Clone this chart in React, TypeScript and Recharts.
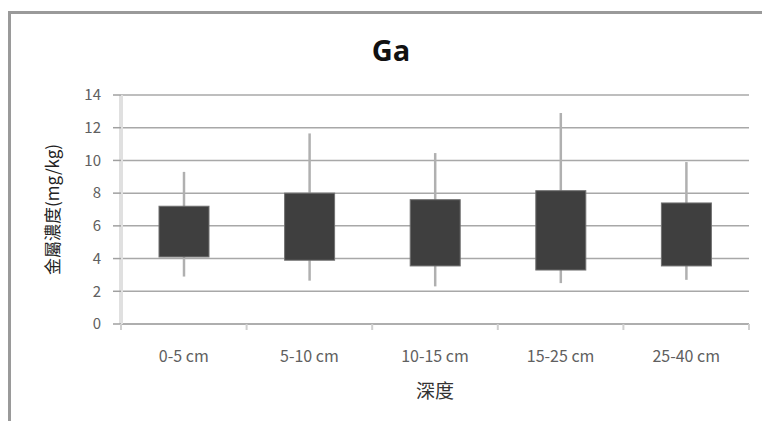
import { ComposedChart, Bar, XAxis, YAxis, CartesianGrid } from 'recharts';

const depths = ['0-5 cm', '5-10 cm', '10-15 cm', '15-25 cm', '25-40 cm'];
const minValues = [2.9, 2.65, 2.3, 2.5, 2.7];
const q1Values = [4.1, 3.9, 3.55, 3.3, 3.55];
const q3Values = [7.2, 8.0, 7.6, 8.15, 7.4];
const maxValues = [9.3, 11.65, 10.45, 12.9, 9.9];
const yTicks = [0, 2, 4, 6, 8, 10, 12, 14];

const data = depths.map((depth, i) => ({
  depth,
  range: [minValues[i], maxValues[i]],
  q1: q1Values[i],
  q3: q3Values[i],
}));

const FONT = '"Noto Sans CJK TC", "Noto Sans", sans-serif';

/**
 * Draws whisker (min..max) and the q1..q3 box inside the range bar's rectangle
 */
function BoxShape(props: any) {
  const { x, y, width, height, payload } = props;
  const [lo, hi] = payload.range;
  const toY = (v: number) => y + ((hi - v) / (hi - lo)) * height;
  const cx = x + width / 2;
  const top = toY(payload.q3);
  const bottom = toY(payload.q1);
  return (
    <g>
      <line x1={cx} x2={cx} y1={y} y2={y + height} stroke="#b0b0b0" strokeWidth={2.5} />
      <rect
        x={x}
        y={top}
        width={width}
        height={bottom - top}
        fill="#3f3f3f"
        stroke="#707070"
        strokeWidth={1}
      />
    </g>
  );
}

function DepthTick(props: any) {
  const { x, y, width, payload, index, visibleTicksCount } = props;
  const band = width / visibleTicksCount;
  const left = x - band / 2;
  return (
    <g>
      <line x1={left} x2={left} y1={y} y2={y + 6} stroke="#cfcfcf" strokeWidth={2} />
      {index === visibleTicksCount - 1 && (
        <line x1={x + band / 2} x2={x + band / 2} y1={y} y2={y + 6} stroke="#cfcfcf" strokeWidth={2} />
      )}
      <text x={x} y={y + 38} textAnchor="middle" fontSize={16} fill="#606060" fontFamily={FONT}>
        {payload.value}
      </text>
    </g>
  );
}

function YTitle({ viewBox }: any) {
  const x = viewBox.x + 51;
  const y = viewBox.y + viewBox.height / 2;
  return (
    <text
      x={x}
      y={y}
      transform={`rotate(-90, ${x}, ${y})`}
      textAnchor="middle"
      dominantBaseline="central"
      fontSize={17}
      fill="#222"
      fontFamily={FONT}
    >
      金屬濃度(mg/kg)
    </text>
  );
}

function XTitle({ viewBox }: any) {
  const x = viewBox.x + viewBox.width / 2;
  return (
    <text x={x} y={viewBox.y + 74} textAnchor="middle" fontSize={19} fill="#333" fontFamily={FONT}>
      深度
    </text>
  );
}

export default function App() {
  return (
    <div
      style={{
        position: 'absolute',
        left: 0,
        top: 0,
        width: 762,
        height: 421,
        background: '#fff',
        overflow: 'hidden',
      }}
    >
      <div
        style={{
          position: 'absolute',
          left: 8,
          top: 11,
          right: -4,
          bottom: -4,
          borderTop: '3px solid #9a9a9a',
          borderLeft: '3px solid #9a9a9a',
        }}
      />
      <div
        style={{
          position: 'absolute',
          left: 291,
          top: 30,
          width: 200,
          textAlign: 'center',
          fontFamily: '"Open Sans", sans-serif',
          fontWeight: 700,
          fontSize: 29,
          color: '#111',
          lineHeight: '40px',
        }}
      >
        Ga
      </div>
      <ComposedChart
        width={762}
        height={421}
        data={data}
        margin={{ top: 95, right: 13, bottom: 37, left: 0 }}
        style={{ position: 'absolute', left: 0, top: 0 }}
      >
        <CartesianGrid vertical={false} stroke="#a8a8a8" strokeWidth={1.5} />
        <XAxis
          dataKey="depth"
          height={60}
          tickLine={false}
          tickSize={0}
          tickMargin={0}
          axisLine={{ stroke: '#a8a8a8', strokeWidth: 1.5 }}
          tick={<DepthTick />}
          interval={0}
          label={<XTitle />}
        />
        <YAxis
          width={121}
          domain={[0, 14]}
          ticks={yTicks}
          interval={0}
          tickSize={8}
          tickMargin={12}
          tickLine={{ stroke: '#a0a0a0', strokeWidth: 1.5 }}
          axisLine={{ stroke: '#e0e0e0', strokeWidth: 4 }}
          tick={{ fontSize: 15, fill: '#606060', fontFamily: FONT }}
          label={<YTitle />}
        />
        <Bar dataKey="range" barSize={50} shape={<BoxShape />} isAnimationActive={false} />
      </ComposedChart>
    </div>
  );
}
